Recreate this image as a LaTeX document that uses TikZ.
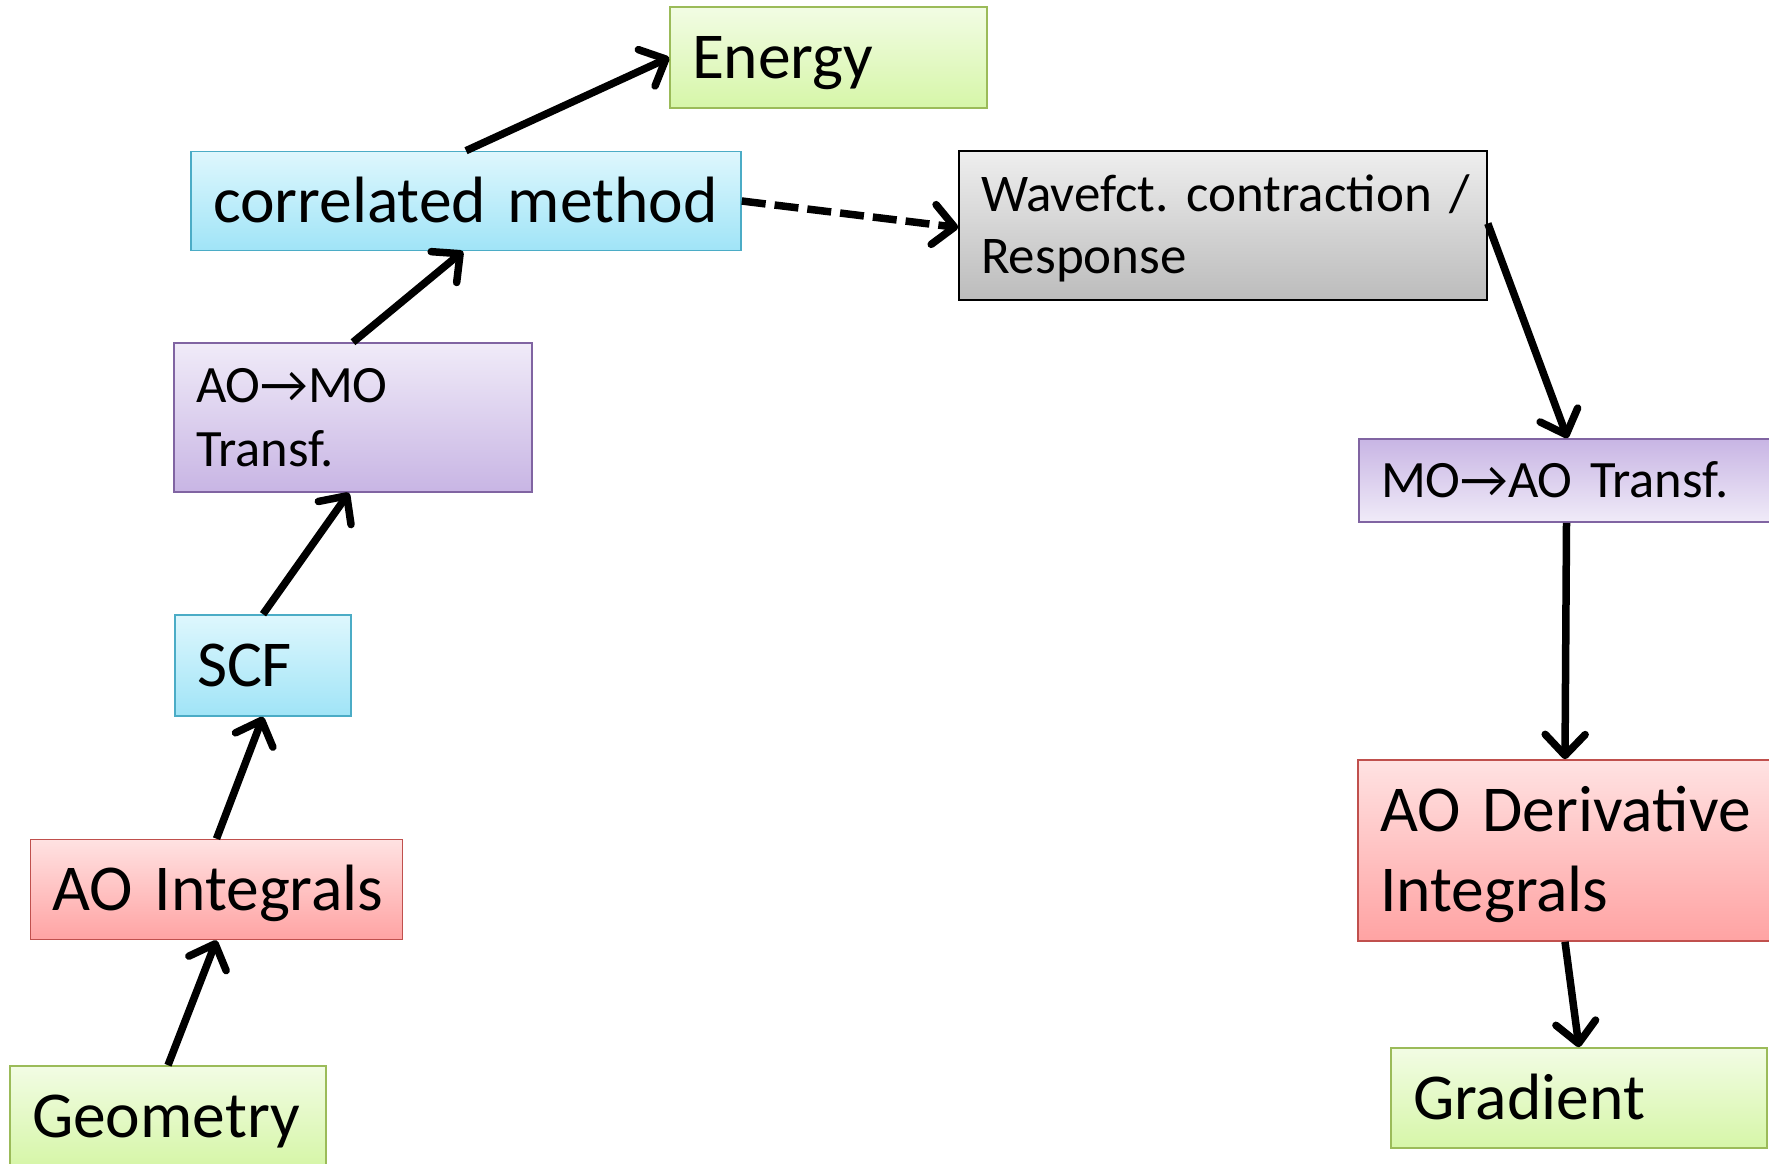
\documentclass[tikz,border=0pt]{standalone}
\usepackage{fontspec}
\setmainfont{Carlito}
\usetikzlibrary{arrows.meta}
\definecolor{grnB}{RGB}{155,187,89}
\definecolor{grnT}{RGB}{242,252,228}
\definecolor{grnD}{RGB}{214,246,168}
\definecolor{bluB}{RGB}{75,172,198}
\definecolor{bluT}{RGB}{222,247,253}
\definecolor{bluD}{RGB}{160,228,247}
\definecolor{purB}{RGB}{128,100,162}
\definecolor{purT}{RGB}{240,235,248}
\definecolor{purD}{RGB}{200,181,228}
\definecolor{redB}{RGB}{192,80,77}
\definecolor{redT}{RGB}{255,226,226}
\definecolor{redD}{RGB}{255,163,163}
\definecolor{gryT}{RGB}{238,238,238}
\definecolor{gryD}{RGB}{188,188,188}
\tikzset{
  box/.style={rectangle, line width=1.6pt, inner xsep=22pt, inner ysep=0pt, align=left, anchor=center,
    execute at begin node={\frenchspacing}},
  greenbox/.style={box, draw=grnB, top color=grnT, bottom color=grnD},
  bluebox/.style={box, draw=bluB, top color=bluT, bottom color=bluD},
  purplebox/.style={box, draw=purB, top color=purT, bottom color=purD},
  purplebox2/.style={box, draw=purB, top color=purD, bottom color=purT},
  redbox/.style={box, draw=redB, top color=redT, bottom color=redD},
  graybox/.style={box, draw=black, top color=gryT, bottom color=gryD},
  big/.style={font=\fontsize{65.5}{80}\selectfont, text height=42.2pt, text depth=0pt},
  arr/.style={line width=7.5pt, -{Straight Barb[round,length=21pt,width=40pt]}},
  darr/.style={arr, dash pattern=on 24pt off 9pt},
}
\begin{document}
\begin{tikzpicture}[x=1pt,y=-1pt]
\useasboundingbox (0,0) rectangle (1769,1163);

\node[greenbox, big, minimum width=317pt, minimum height=101pt, text width=273pt] (energy) at (828.5,57.5) {\mbox{Energy}};
\node[bluebox, big, minimum width=550pt, minimum height=99pt, text width=506pt] (corr) at (466,201) {\mbox{correlated method}};
\node[graybox, font=\fontsize{53}{62}\selectfont, text height=34pt, text depth=62pt, minimum width=528pt, minimum height=149pt, text width=484pt] (wave) at (1223,225.5) {\mbox{Wavefct. contraction /}\\\mbox{Response}};
\node[purplebox, font=\fontsize{52.5}{64}\selectfont, text height=33.5pt, text depth=64pt, minimum width=358pt, minimum height=149pt, text width=314pt] (aomo) at (353,417.5) {\mbox{AO→MO}\\\mbox{Transf.}};
\node[bluebox, big, minimum width=176pt, minimum height=101pt, text width=132pt] (scf) at (263,665.5) {\mbox{SCF}};
\node[redbox, big, minimum width=372pt, minimum height=100pt, text width=328pt] (aoint) at (216.5,889.5) {\mbox{AO Integrals}};
\node[greenbox, big, minimum width=316pt, minimum height=100pt, text width=272pt] (geom) at (168,1116) {\mbox{Geometry}};
\node[purplebox2, font=\fontsize{52.5}{60}\selectfont, text height=33.8pt, text depth=0pt, minimum width=431pt, minimum height=83pt, text width=387pt] (moao) at (1574.5,480.5) {\mbox{MO→AO Transf.}};
\node[redbox, font=\fontsize{65.5}{80}\selectfont, text height=42.2pt, text depth=80pt, minimum width=432pt, minimum height=181pt, text width=388pt] (aoder) at (1574,850.5) {\mbox{AO Derivative}\\\mbox{Integrals}};
\node[greenbox, big, minimum width=376pt, minimum height=100pt, text width=332pt] (grad) at (1579,1098) {\mbox{Gradient}};

\draw[arr] (geom.north) -- (aoint.south);
\draw[arr] (aoint.north) -- (scf.south);
\draw[arr] (scf.north) -- ([xshift=-4pt]aomo.south);
\draw[arr] (aomo.north) -- ([xshift=-3pt]corr.south);
\draw[arr] (corr.north) -- (energy.west);
\draw[darr] (corr.east) -- ([yshift=-2pt]wave.west);
\draw[arr] ([yshift=2pt]wave.east) -- ([xshift=-7pt]moao.north);
\draw[arr] ([xshift=-8pt]moao.south) -- ([xshift=-9pt]aoder.north);
\draw[arr] ([xshift=-9pt]aoder.south) -- (grad.north);
\end{tikzpicture}
\end{document}
